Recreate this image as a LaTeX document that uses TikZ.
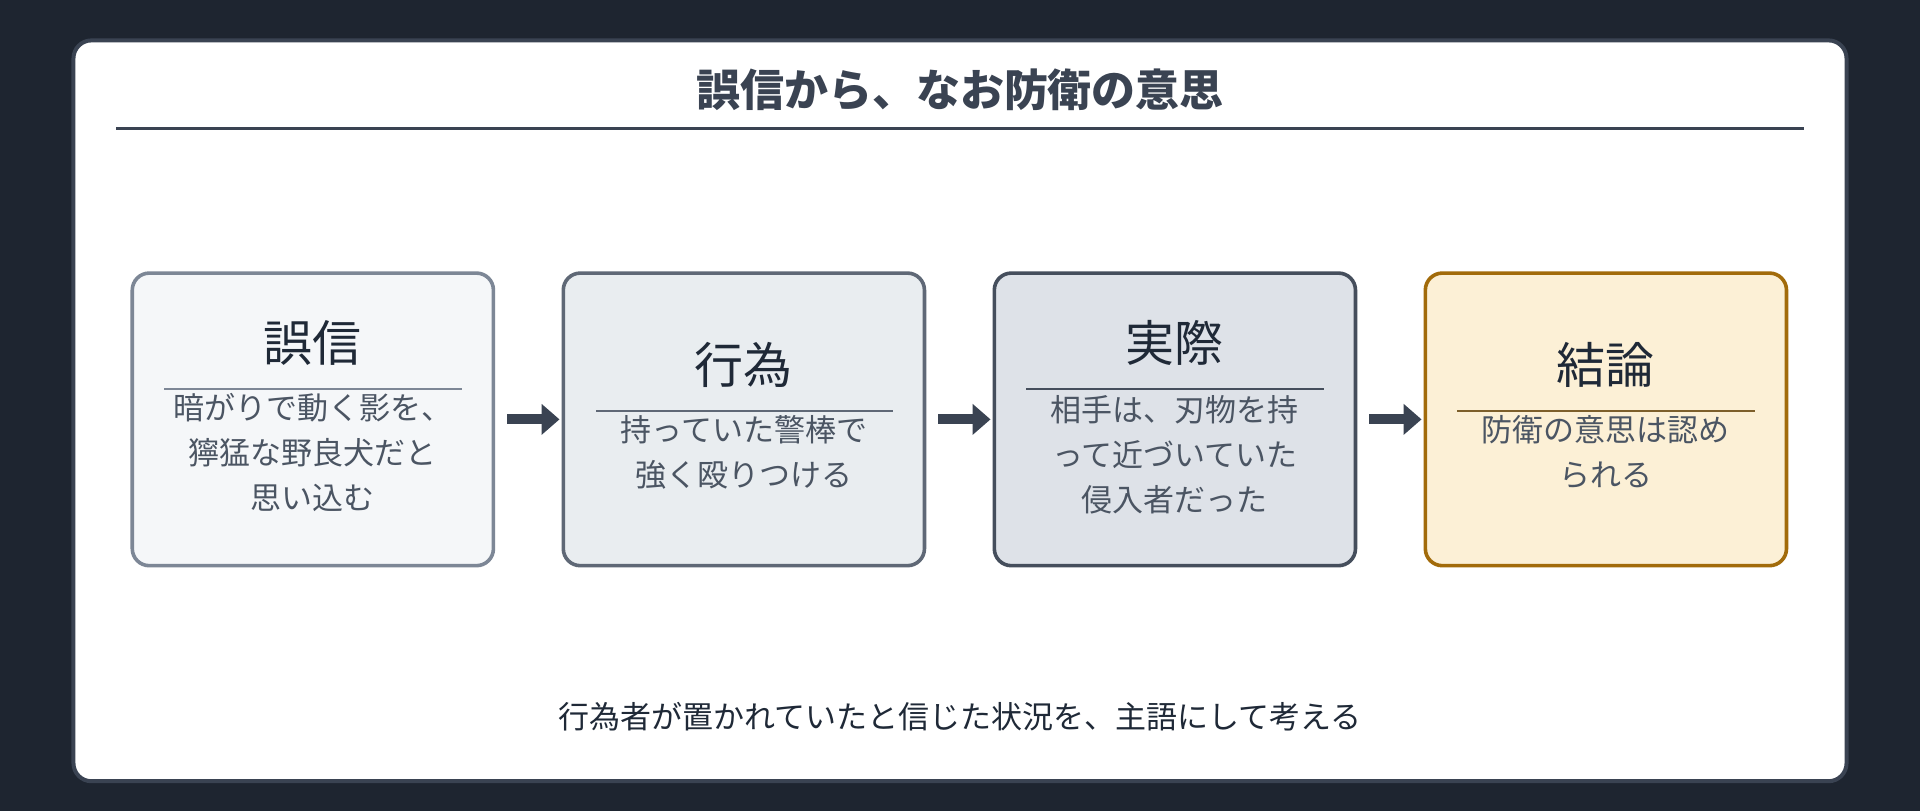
\documentclass[tikz,border=0pt]{standalone}
\usepackage{fontspec}
\setmainfont{Noto Sans CJK JP}
\usetikzlibrary{positioning,arrows.meta}
\definecolor{bgdark}{HTML}{1E2530}
\definecolor{frame}{HTML}{3A4352}
\definecolor{ink}{HTML}{1F2937}
\definecolor{bodyink}{HTML}{4B5563}
\definecolor{fillA}{HTML}{F5F7F9}\definecolor{lineA}{HTML}{7D8796}
\definecolor{fillB}{HTML}{E9EDF0}\definecolor{lineB}{HTML}{5F6876}
\definecolor{fillC}{HTML}{DEE2E8}\definecolor{lineC}{HTML}{454E5C}
\definecolor{fillD}{HTML}{FCF0D6}\definecolor{lineD}{HTML}{A26B0A}
\tikzset{
	step box/.style={draw, rounded corners=8.5pt, line width=1.8pt, minimum width=180.6pt, minimum height=146.3pt},
	box title/.style={font=\fontsize{24.5}{28}\selectfont, text=ink, inner sep=0pt},
	box body/.style={font=\fontsize{15.5}{22.5}\selectfont, text=bodyink, align=center, inner sep=0pt},
	box rule/.style={line width=1pt},
	step arrow/.style={-{Triangle[length=9pt,width=15pt]}, line width=4.9pt, draw=frame, shorten <=6pt, shorten >=1pt}}

\begin{document}
\begin{tikzpicture}[x=0.6123pt,y=0.6123pt,yscale=-1]
	\useasboundingbox (0,0) rectangle (1568,662.3);
	\fill[bgdark] (0,0) rectangle (1568,662.3);
	% panel
	\draw[frame, fill=white, line width=2pt, rounded corners=9pt] (60,33) rectangle (1508,638);
	\node[font=\bfseries\fontsize{22}{26}\selectfont, text=frame] (title) at (784,73) {誤信から、なお防衛の意思};
	\draw[frame, line width=1.3pt] (95,105) -- (1473,105);

	% boxes
	\node[step box, fill=fillA, draw=lineA] (gokai) at (255.5,342.5) {};
	\node[step box, fill=fillB, draw=lineB] (koui) at (607.5,342.5) {};
	\node[step box, fill=fillC, draw=lineC] (jissai) at (959.5,342.5) {};
	\node[step box, fill=fillD, draw=lineD] (ketsuron) at (1311.5,342.5) {};

	% box 1
	\node[box title] (gokaiT) at (255.5,280) {誤信};
	\draw[box rule, draw=lineA] (134,318) -- (377,318);
	\node[box body, anchor=north] (gokaiB) at (255.5,321) {暗がりで動く影を、\\獰猛な野良犬だと\\思い込む};
	% box 2
	\node[box title] (kouiT) at (607.5,298) {行為};
	\draw[box rule, draw=lineB] (487,336) -- (729,336);
	\node[box body, anchor=north] (kouiB) at (607.5,339) {持っていた警棒で\\強く殴りつける};
	% box 3
	\node[box title] (jissaiT) at (959.5,280) {実際};
	\draw[box rule, draw=lineC] (838,318) -- (1081,318);
	\node[box body, anchor=north] (jissaiB) at (959.5,323) {相手は、刃物を持\\って近づいていた\\侵入者だった};
	% box 4
	\node[box title] (ketsuronT) at (1311.5,298) {結論};
	\draw[box rule, draw=lineD!60!lineC] (1190,336) -- (1433,336);
	\node[box body, anchor=north] (ketsuronB) at (1311.5,339) {防衛の意思は認め\\られる};

	% arrows
	\draw[step arrow] (gokai) -- (koui);
	\draw[step arrow] (koui) -- (jissai);
	\draw[step arrow] (jissai) -- (ketsuron);

	\node[font=\fontsize{15.5}{20}\selectfont, text=ink] (note) at (784,585) {行為者が置かれていたと信じた状況を、主語にして考える};
\end{tikzpicture}
\end{document}
